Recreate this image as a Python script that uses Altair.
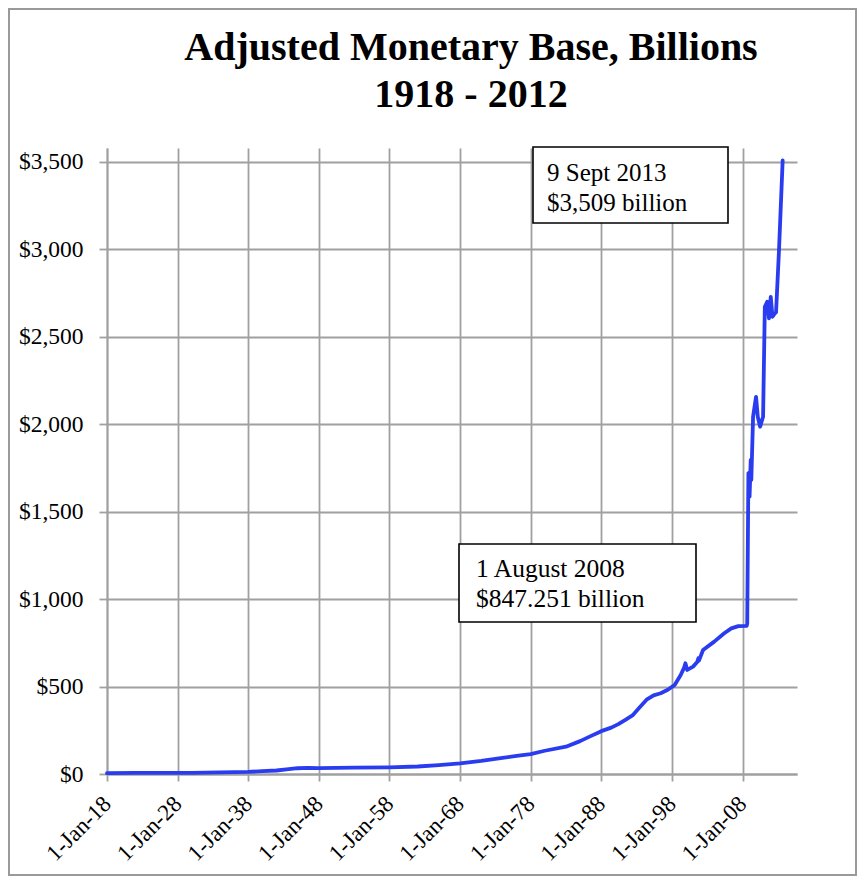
import altair as alt
import pandas as pd

# ---- data (billions of dollars) ----
dates = [
    "1918-01-01", "1922-01-01", "1926-01-01", "1930-01-01", "1934-01-01",
    "1938-01-01", "1940-01-01", "1942-01-01", "1943-06-01", "1945-01-01",
    "1946-06-01", "1948-01-01", "1953-01-01", "1958-01-01", "1962-01-01",
    "1965-01-01", "1968-01-01", "1971-01-01", "1974-01-01", "1976-01-01",
    "1978-01-01", "1980-01-01", "1983-01-01", "1985-01-01", "1986-06-01",
    "1988-01-01", "1989-06-01", "1990-06-01", "1991-06-01", "1992-06-01",
    "1993-06-01", "1994-06-01", "1995-06-01", "1996-06-01", "1997-06-01",
    "1998-06-01", "1999-04-01", "1999-10-01", "1999-12-01", "2000-03-01",
    "2001-01-01", "2001-08-01", "2001-10-01", "2001-11-01", "2002-06-01",
    "2004-01-01", "2005-06-01", "2006-06-01", "2007-06-01", "2008-08-01",
    "2008-09-01", "2008-11-01", "2009-01-01", "2009-03-01", "2009-04-01",
    "2009-07-01", "2009-12-01", "2010-03-01", "2010-07-01", "2010-12-01",
    "2011-03-01", "2011-07-01", "2011-10-01", "2012-01-01", "2012-04-01",
    "2012-08-01", "2012-10-01", "2013-03-01", "2013-09-09",
]
values = [
    5, 6, 6.5, 7, 9,
    12, 16, 20, 26, 33,
    35, 34, 36, 38, 43,
    51, 61, 75, 92, 103,
    114, 133, 156, 188, 215,
    245, 265, 285, 310, 335,
    380, 425, 450, 462, 482,
    510, 566, 610, 633, 595,
    614, 640, 662, 648, 709,
    757, 805, 833, 846, 847,
    860, 1721, 1586, 1796, 1681,
    2043, 2157, 2043, 1986, 2043,
    2672, 2701, 2606, 2729, 2615,
    2634, 2640, 2990, 3509,
]
x_tick_years = [1918, 1928, 1938, 1948, 1958, 1968, 1978, 1988, 1998, 2008]
y_ticks = [0, 500, 1000, 1500, 2000, 2500, 3000, 3500]
title_lines = ["Adjusted Monetary Base, Billions", "1918 - 2012"]
note_2013 = ["9 Sept 2013", "$3,509 billion"]
note_2008 = ["1 August 2008", "$847.251 billion"]

df = pd.DataFrame({"date": pd.to_datetime(dates), "value": values})

FONT = "Liberation Serif"
GRID = "#a0a0a0"
W, H = 690, 626

x_enc = alt.X(
    "date:T",
    title=None,
    scale=alt.Scale(domain=[alt.DateTime(year=1918, month=1, date=1),
                            alt.DateTime(year=2015, month=9, date=20)]),
    axis=alt.Axis(
        values=[alt.DateTime(year=y, month=1, date=1) for y in x_tick_years],
        format="%-d-%b-%y",
        labelAngle=-45,
        labelAlign="right",
        labelBaseline="middle",
        labelFont=FONT,
        labelFontSize=23,
        labelColor="black",
        labelPadding=19,
        tickSize=7,
        tickColor=GRID,
        tickWidth=1.8,
        domainColor=GRID,
        domainWidth=1.8,
        grid=True,
        gridColor=GRID,
        gridWidth=1.8,
        labelOverlap=False,
        labelFlush=False,
    ),
)
y_enc = alt.Y(
    "value:Q",
    title=None,
    scale=alt.Scale(domain=[0, 3580], nice=False),
    axis=alt.Axis(
        values=y_ticks,
        format="$,.0f",
        labelFont=FONT,
        labelFontSize=23.5,
        labelColor="black",
        labelPadding=16,
        tickSize=8,
        tickColor=GRID,
        tickWidth=1.8,
        domainColor=GRID,
        domainWidth=1.8,
        grid=True,
        gridColor=GRID,
        gridWidth=1.8,
        labelOverlap=False,
    ),
)

line = alt.Chart(df).mark_line(
    color="#2a3cf0", strokeWidth=3.8, strokeJoin="round", strokeCap="round"
).encode(x=x_enc, y=y_enc)

one = alt.Data(values=[{}])


def box(x1, x2, y1, y2, stroke, width, fill=None):
    kw = dict(stroke=stroke, strokeWidth=width)
    if fill is None:
        kw["filled"] = False
        kw["fillOpacity"] = 0
    else:
        kw["fill"] = fill
    return alt.Chart(one).mark_rect(**kw).encode(
        x=alt.value(x1), x2=alt.value(x2), y=alt.value(y1), y2=alt.value(y2)
    )


def text(s, x, y, size, weight="normal", align="left"):
    return alt.Chart(one).mark_text(
        text=s, font=FONT, fontSize=size, fontWeight=weight, color="black",
        align=align, baseline="alphabetic"
    ).encode(x=alt.value(x), y=alt.value(y))


layers = [
    box(-98, 749, -139, 727, "#9a9a9a", 2),
    line,
    box(426, 621, -1, 75, "black", 1.6, fill="white"),
    text(note_2013[0], 440, 33, 25),
    text(note_2013[1], 440, 63, 25),
    box(352, 589, 396, 474, "black", 1.6, fill="white"),
    text(note_2008[0], 369, 429, 25.5),
    text(note_2008[1], 369, 459, 25.5),
    text(title_lines[0], 364, -88, 40, weight="bold", align="center"),
    text(title_lines[1], 364, -41, 40, weight="bold", align="center"),
]

chart = alt.layer(*layers).properties(
    width=W, height=H, padding=0, background="white"
).configure_view(stroke=None)

chart.save("out.html", embed_options={"renderer": "svg", "actions": False})
